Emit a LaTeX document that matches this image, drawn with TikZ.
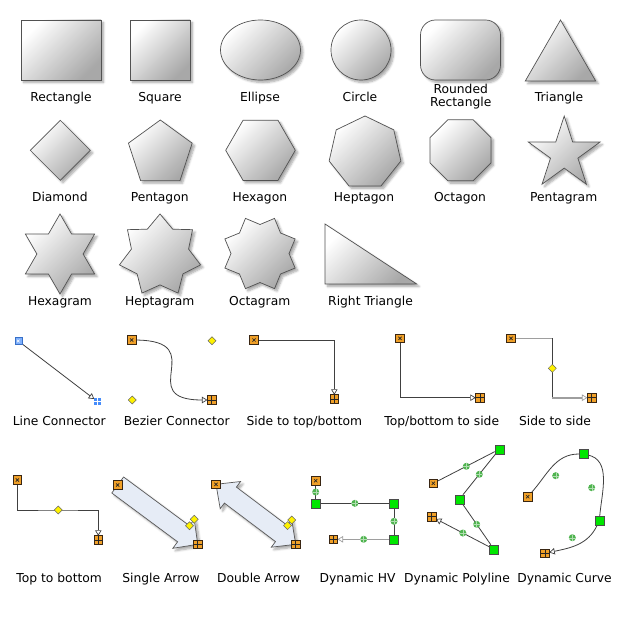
\documentclass[tikz,border=0pt]{standalone}
\usepackage{fontspec}
\setmainfont{DejaVu Sans}
\usetikzlibrary{arrows.meta, shapes.geometric, shadows.blur, calc, backgrounds}

\definecolor{hdlorange}{RGB}{240,160,40}
\definecolor{hdlgreen}{RGB}{0,230,0}
\definecolor{dotgreen}{RGB}{80,180,80}
\definecolor{hdlblue}{RGB}{70,140,250}
\definecolor{arrfill}{RGB}{230,236,246}

\begin{document}
\begin{tikzpicture}[x=1pt, y=-1pt,
  shp/.style={draw=black!68, line width=0.7pt, top color=white, bottom color=black!34,
              shading angle=45, inner sep=0pt, outer sep=0pt,
              blur shadow={shadow xshift=2.5pt, shadow yshift=-2.5pt,
                           shadow blur steps=6, shadow opacity=35}},
  blk/.style={draw=black!65, line width=0.7pt, fill=arrfill,
              blur shadow={shadow xshift=2.5pt, shadow yshift=-2.5pt,
                           shadow blur steps=6, shadow opacity=35}},
  lbl/.style={font=\fontsize{12.3}{13.4}\selectfont, inner sep=0pt, anchor=base},
  conn/.style={draw=black!75, line width=0.8pt},
  gconn/.style={draw=black!38, line width=1.6pt},
  tip/.style={-{Triangle[open, length=5.5pt, width=6.5pt, line width=0.7pt]}},
  hs/.style={draw=black!70!brown, fill=hdlorange, minimum size=8.5pt, inner sep=0pt,
             outer sep=0pt, line width=0.6pt,
             path picture={\draw[black!85, line width=0.7pt]
               (path picture bounding box.center) +(-1.6,-1.6) -- +(1.6,1.6)
               +(-1.6,1.6) -- +(1.6,-1.6);}},
  he/.style={draw=black!70!brown, fill=hdlorange, minimum size=8.5pt, inner sep=0pt,
             outer sep=0pt, line width=0.6pt,
             path picture={\draw[black!85, line width=0.7pt]
               (path picture bounding box.north) -- (path picture bounding box.south)
               (path picture bounding box.west) -- (path picture bounding box.east);}},
  bs/.style={draw=hdlblue!80!black, fill=hdlblue!70, minimum size=7pt, inner sep=0pt,
             outer sep=0pt, line width=0.5pt,
             path picture={\draw[white, line width=0.6pt]
               (path picture bounding box.center) +(-1.3,-1.3) -- +(1.3,1.3)
               +(-1.3,1.3) -- +(1.3,-1.3);}},
  be/.style={fill=hdlblue, minimum size=7pt, inner sep=0pt, outer sep=0pt,
             path picture={\draw[white, line width=0.9pt]
               (path picture bounding box.north) -- (path picture bounding box.south)
               (path picture bounding box.west) -- (path picture bounding box.east);}},
  ctl/.style={diamond, draw=black!60, fill=yellow, minimum size=8pt, inner sep=0pt,
              outer sep=0pt, line width=0.5pt},
  gsq/.style={draw=black!70, fill=hdlgreen, minimum size=9pt, inner sep=0pt,
              outer sep=0pt, line width=0.6pt},
  gdot/.style={circle, fill=dotgreen, minimum size=7pt, inner sep=0pt, outer sep=0pt,
               path picture={\draw[white!55!dotgreen, line width=0.4pt]
                 (path picture bounding box.north) -- (path picture bounding box.south)
                 (path picture bounding box.west) -- (path picture bounding box.east);}}
]
\useasboundingbox (0,0) rectangle (620,620);

% basic shapes
\node[shp, minimum width=80pt, minimum height=60pt] (rect) at (61,50) {};
\node[shp, minimum size=60pt] (sq) at (160,50) {};
\node[shp, ellipse, minimum width=80pt, minimum height=60pt] (ell) at (260.5,50) {};
\node[shp, circle, minimum size=60pt] (circ) at (361,50) {};
\node[shp, rounded corners=15pt, minimum width=80pt, minimum height=60pt] (rrect) at (460.5,50) {};
\node[shp, regular polygon, regular polygon sides=3, minimum size=81.4pt] (tri) at (560.5,60.7) {};

\node[shp, diamond, minimum width=60pt, minimum height=60pt] (dia) at (60.3,150.3) {};
\node[shp, regular polygon, regular polygon sides=5, minimum size=67pt] (pent) at (160.3,153.5) {};
\node[shp, regular polygon, regular polygon sides=6, minimum size=69.6pt] (hexa) at (260.5,150.3) {};
\node[shp, regular polygon, regular polygon sides=7, minimum size=73.6pt] (hepta) at (365,152.8) {};
\node[shp, regular polygon, regular polygon sides=8, minimum size=66pt] (octa) at (460.5,150.3) {};
\node[shp, star, star points=5, star point ratio=2.618, minimum size=75.4pt] (pstar) at (564.2,153.7) {};

\node[shp, star, star points=6, star point ratio=1.732, minimum size=80pt] (hxstar) at (60,254) {};
\node[shp, star, star points=7, star point ratio=1.42, minimum size=83.2pt] (hpstar) at (160,255.6) {};
\node[shp, star, star points=8, star point ratio=1.31, shape border rotate=22.5,
      minimum size=76pt] (ocstar) at (260,253.5) {};
\path[shp] (325,224) -- (325,284) -- (416.7,284) -- cycle;

% shape labels
\node[lbl] (lRect) at (61,101.7) {Rectangle};
\node[lbl] (lSq) at (160,101.7) {Square};
\node[lbl] (lEll) at (260,101.7) {Ellipse};
\node[lbl] (lCirc) at (360,101.7) {Circle};
\node[lbl, align=center, anchor=center] (lRRect) at (460.7,96.8) {Rounded\\Rectangle};
\node[lbl] (lTri) at (559,101.7) {Triangle};
\node[lbl] (lDia) at (59.8,201.7) {Diamond};
\node[lbl] (lPent) at (159.7,201.7) {Pentagon};
\node[lbl] (lHexa) at (259.8,201.7) {Hexagon};
\node[lbl] (lHepta) at (364,201.7) {Heptagon};
\node[lbl] (lOcta) at (460,201.7) {Octagon};
\node[lbl] (lPstar) at (563.7,201.7) {Pentagram};
\node[lbl] (lHxstar) at (60,305) {Hexagram};
\node[lbl] (lHpstar) at (159.7,305) {Heptagram};
\node[lbl] (lOcstar) at (259.7,305) {Octagram};
\node[lbl] (lRTri) at (370.5,305) {Right Triangle};

% block arrows
\path[blk] (123.6,477) -- (189.5,525.8) -- (194.2,519.3) -- (197.7,544.3)
  -- (172.8,548.3) -- (177.6,541.8) -- (111.8,493) -- cycle;
\path[blk] (216,484.3) -- (240.6,481.5) -- (236.4,487.1) -- (287.5,525.6)
  -- (291.7,520) -- (295.7,544.3) -- (271.3,547.2) -- (275.5,541.6)
  -- (224.4,503.1) -- (220.2,508.7) -- cycle;

% handles
\node[bs] (lc1) at (18.3,341) {};
\node[be] (lc2) at (97.7,401.7) {};
\node[hs] (bz1) at (131.7,340) {};
\node[he] (bz2) at (211.7,400) {};
\node[ctl] (bzc1) at (212,340.7) {};
\node[ctl] (bzc2) at (132.3,400) {};
\node[hs] (sb1) at (254,340) {};
\node[he] (sb2) at (334.3,399) {};
\node[hs] (ts1) at (400,338.3) {};
\node[he] (ts2) at (480,397.7) {};
\node[hs] (ss1) at (511,338.3) {};
\node[he] (ss2) at (591.7,397.7) {};
\node[ctl] (ssm) at (552.3,368.3) {};

\node[hs] (tb1) at (17.3,480) {};
\node[he] (tb2) at (98.3,540) {};
\node[ctl] (tbm) at (58.3,510) {};
\node[hs] (sa1) at (117.7,485) {};
\node[he] (sa2) at (197.7,544.3) {};
\node[ctl] (sac1) at (194.2,519.3) {};
\node[ctl] (sac2) at (189.5,525.8) {};
\node[hs] (da1) at (216,484.3) {};
\node[he] (da2) at (295.7,544.3) {};
\node[ctl] (dac1) at (291.7,520) {};
\node[ctl] (dac2) at (287.5,525.6) {};
\node[hs] (hv1) at (315.7,480.7) {};
\node[gsq] (hvg1) at (315.7,503.3) {};
\node[gsq] (hvg2) at (394,503.3) {};
\node[gsq] (hvg3) at (394,539.3) {};
\node[he] (hv2) at (333.3,539.3) {};
\node[gdot] (hvd1) at ($(hv1)!0.5!(hvg1)$) {};
\node[gdot] (hvd2) at ($(hvg1)!0.5!(hvg2)$) {};
\node[gdot] (hvd3) at ($(hvg2)!0.5!(hvg3)$) {};
\node[gdot] (hvd4) at ($(hvg3)!0.5!(hv2)$) {};
\node[hs] (pl1) at (433.3,483.3) {};
\node[gsq] (plg1) at (499.3,449.3) {};
\node[gsq] (plg2) at (459.3,499.3) {};
\node[gsq] (plg3) at (494,549.3) {};
\node[he] (pl2) at (431.7,516.7) {};
\node[gdot] (pld1) at ($(pl1)!0.5!(plg1)$) {};
\node[gdot] (pld2) at ($(plg1)!0.5!(plg2)$) {};
\node[gdot] (pld3) at ($(plg2)!0.5!(plg3)$) {};
\node[gdot] (pld4) at ($(plg3)!0.5!(pl2)$) {};
\node[hs] (dc1) at (527.7,496.7) {};
\node[gsq] (dcg1) at (583.3,454) {};
\node[gsq] (dcg2) at (599.3,520.7) {};
\node[he] (dc2) at (545,553.3) {};
\node[gdot] (dcd1) at (555.7,475.7) {};
\node[gdot] (dcd2) at (591.7,487.7) {};
\node[gdot] (dcd3) at (572.3,537.7) {};

% connectors
\begin{scope}[on background layer]
\draw[conn, tip] (lc1) -- (lc2);
\draw[conn, tip] (bz1) .. controls (bzc1) and (bzc2) .. (bz2);
\draw[conn, tip] (sb1) -| (sb2);
\draw[conn, tip] (ts1) |- (ts2);
\draw[gconn] (ss1) -- (ss1 -| ssm);
\draw[conn] (ss1 -| ssm) -- (ssm |- ss2);
\draw[gconn, tip] (ssm |- ss2) -- (ss2);
\draw[conn, tip] (tb1) |- (tbm.center) -| (tb2);
\draw[conn] (hv1) -- (hvg1) -- (hvg2) -- (hvg3);
\draw[gconn, tip] (hvg3) -- (hv2);
\draw[conn, tip] (pl1) -- (plg1) -- (plg2) -- (plg3) -- (pl2);
\draw[conn, tip] (dc1) to[out=48, in=180] (dcg1) to[out=-12, in=85] (dcg2)
  to[out=-115, in=12] (dc2);
\end{scope}

% connector labels
\node[lbl] (lLine) at (59.3,425.7) {Line Connector};
\node[lbl] (lBez) at (176.7,425.7) {Bezier Connector};
\node[lbl] (lSTB) at (304.3,425.7) {Side to top/bottom};
\node[lbl] (lTBS) at (441.7,425.7) {Top/bottom to side};
\node[lbl] (lSS) at (555,425.7) {Side to side};
\node[lbl] (lTB) at (59.2,582.7) {Top to bottom};
\node[lbl] (lSA) at (161,582.7) {Single Arrow};
\node[lbl] (lDA) at (258.7,582.7) {Double Arrow};
\node[lbl] (lHV) at (357.5,582.7) {Dynamic HV};
\node[lbl] (lPL) at (457,582.7) {Dynamic Polyline};
\node[lbl] (lDC) at (564.5,582.7) {Dynamic Curve};
\end{tikzpicture}
\end{document}
